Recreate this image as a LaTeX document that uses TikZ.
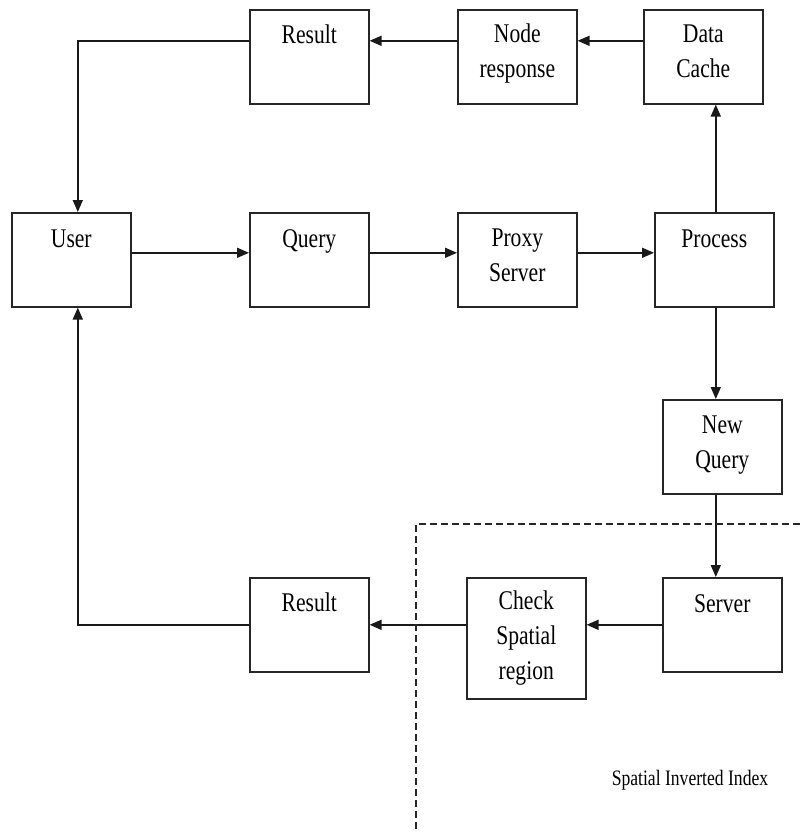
\documentclass[tikz,border=0pt]{standalone}
\usepackage{fontspec}
\setmainfont{Liberation Serif}[FakeStretch=0.8]
\usetikzlibrary{arrows.meta,calc}

\begin{document}
\begin{tikzpicture}[x=1pt,y=-1pt,
  box/.style={draw=black!85, line width=1.6pt, minimum width=119pt,
    minimum height=94pt, anchor=north west, inner sep=0pt},
  tallbox/.style={box, minimum height=121pt},
  lbl/.style={anchor=base, inner sep=0pt,
    font=\fontsize{27}{35}\selectfont},
  arr/.style={draw=black!90, line width=1.6pt,
    -{Triangle[length=12pt,width=10pt]}},
  bound/.style={draw=black!85, line width=1.4pt, dash pattern=on 7pt off 4pt}]

\useasboundingbox (0,0) rectangle (800,833);

% boxes
\node[box] (res1)     at (249,9)   {};
\node[box] (noderesp) at (457,9)   {};
\node[box] (cache)    at (643,9)   {};
\node[box] (user)     at (11,212)  {};
\node[box] (query)    at (249,212) {};
\node[box] (proxy)    at (457,212) {};
\node[box] (process)  at (654,212) {};
\node[box] (newq)     at (662,399) {};
\node[box] (server)   at (662,577) {};
\node[tallbox] (check) at (466,577) {};
\node[box] (res2)     at (249,577) {};

% box captions, first baseline near the top edge
\node[lbl] (res1-t)     at ([yshift=-34pt]res1.north)     {\parbox[t]{116pt}{\centering Result}};
\node[lbl] (noderesp-t) at ([yshift=-33pt]noderesp.north) {\parbox[t]{116pt}{\centering Node\\response}};
\node[lbl] (cache-t)    at ([yshift=-33pt]cache.north)    {\parbox[t]{116pt}{\centering Data\\Cache}};
\node[lbl] (user-t)     at ([yshift=-35pt]user.north)     {\parbox[t]{116pt}{\centering User}};
\node[lbl] (query-t)    at ([yshift=-35pt]query.north)    {\parbox[t]{116pt}{\centering Query}};
\node[lbl] (proxy-t)    at ([yshift=-34pt]proxy.north)    {\parbox[t]{116pt}{\centering Proxy\\Server}};
\node[lbl] (process-t)  at ([yshift=-35pt]process.north)  {\parbox[t]{116pt}{\centering Process}};
\node[lbl] (newq-t)     at ([yshift=-34pt]newq.north)     {\parbox[t]{116pt}{\centering New\\Query}};
\node[lbl] (server-t)   at ([yshift=-35pt]server.north)   {\parbox[t]{116pt}{\centering Server}};
\node[lbl] (check-t)    at ([yshift=-32pt]check.north)    {\parbox[t]{116pt}{\centering Check\\Spatial\\region}};
\node[lbl] (res2-t)     at ([yshift=-34pt]res2.north)     {\parbox[t]{116pt}{\centering Result}};

% top row, right to left
\draw[arr] ([yshift=16pt]cache.west) -- ([yshift=16pt]noderesp.east);
\draw[arr] ([yshift=16pt]noderesp.west) -- ([yshift=16pt]res1.east);
\draw[arr] ([yshift=16pt]res1.west) -| ([xshift=6.5pt]user.north);

% middle row, left to right
\draw[arr] ([yshift=7pt]user.east) -- ([yshift=7pt]query.west);
\draw[arr] ([yshift=7pt]query.east) -- ([yshift=7pt]proxy.west);
\draw[arr] ([yshift=7pt]proxy.east) -- ([yshift=7pt]process.west);

% branches out of Process
\draw[arr] ([xshift=1.5pt]process.north) -- ([xshift=1.5pt]process.north |- cache.south);
\draw[arr] ([xshift=1.5pt]process.south) -- ([xshift=1.5pt]process.south |- newq.north);
\draw[arr] ([xshift=-6.5pt]newq.south) -- ([xshift=-6.5pt]server.north);

% bottom row, right to left, back to User
\draw[arr] (server.west) -- (server.west -| check.east);
\draw[arr] (server.west -| check.west) -- (server.west -| res2.east);
\draw[arr] (res2.west) -| ([xshift=6.5pt]user.south);

% server-side boundary
\coordinate (b1) at (800,524);
\coordinate (b2) at (416,524);
\coordinate (b3) at (416,833);
\draw[bound] (b1) -- (b2) -- (b3);
\node[anchor=base, inner sep=0pt, font=\fontsize{22}{26}\selectfont] (sii) at (690,785) {Spatial Inverted Index};

\end{tikzpicture}
\end{document}
